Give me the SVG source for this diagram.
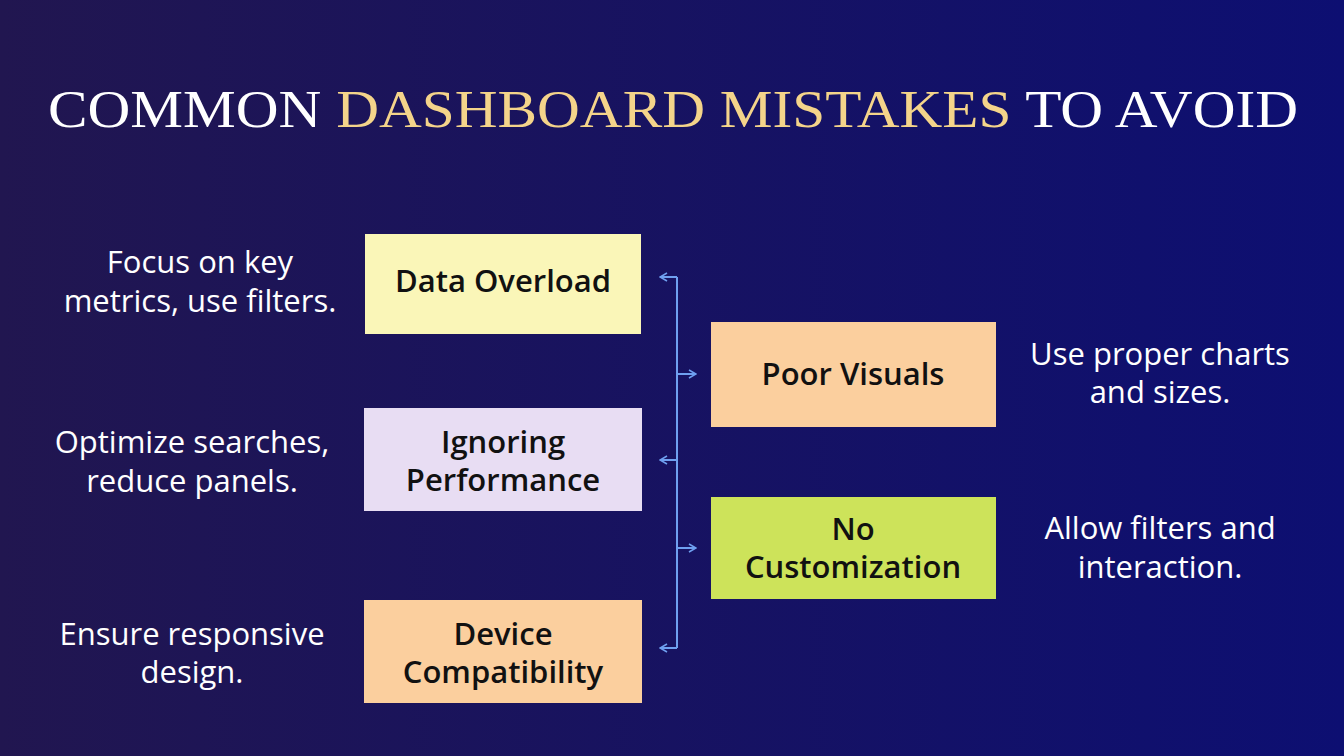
<svg xmlns="http://www.w3.org/2000/svg" width="1344" height="756" viewBox="0 0 1344 756">
<defs>
<linearGradient id="bg" x1="0" y1="0" x2="1" y2="0"><stop offset="0" stop-color="#211650"/><stop offset="1" stop-color="#0d0f72"/></linearGradient>
<marker id="ah" viewBox="0 0 10 10" refX="9" refY="5" markerWidth="10" markerHeight="10" markerUnits="userSpaceOnUse" orient="auto"><path d="M2,1 L9,5 L2,9" fill="none" stroke="#6fa0f0" stroke-width="1.6"/></marker>
<style>
.t{font-family:"Liberation Serif",serif;font-size:52px;fill:#fff}
.b{font-family:"Open Sans","Liberation Sans",sans-serif;font-weight:600;font-size:31px;fill:#111;text-anchor:middle}
.d{font-family:"Open Sans","Liberation Sans",sans-serif;font-size:31px;fill:#fff;text-anchor:middle}
.c{stroke:#6fa0f0;stroke-width:2;fill:none}
</style>
</defs>
<rect width="1344" height="756" fill="url(#bg)"/>
<text x="48" y="127" class="t" textLength="1250" lengthAdjust="spacingAndGlyphs">COMMON <tspan fill="#f4d48a">DASHBOARD MISTAKES</tspan> TO AVOID</text>
<g id="n1"><rect x="365" y="234" width="276" height="100" fill="#faf6b8"/><text class="b" x="503" y="292">Data Overload</text></g>
<g id="n2"><rect x="364" y="408" width="278" height="103" fill="#e8ddf3"/><text class="b" x="503" y="453">Ignoring</text><text class="b" x="503" y="491">Performance</text></g>
<g id="n3"><rect x="364" y="600" width="278" height="103" fill="#fbcf9e"/><text class="b" x="503" y="645">Device</text><text class="b" x="503" y="683">Compatibility</text></g>
<g id="n4"><rect x="711" y="322" width="285" height="105" fill="#fbcf9e"/><text class="b" x="853" y="385">Poor Visuals</text></g>
<g id="n5"><rect x="711" y="497" width="285" height="102" fill="#cde35a"/><text class="b" x="853" y="540">No</text><text class="b" x="853" y="578">Customization</text></g>
<g id="desc">
<text class="d" x="200" y="273">Focus on key</text><text class="d" x="200" y="312">metrics, use filters.</text>
<text class="d" x="192" y="453">Optimize searches,</text><text class="d" x="192" y="492">reduce panels.</text>
<text class="d" x="192" y="645">Ensure responsive</text><text class="d" x="192" y="683">design.</text>
<text class="d" x="1160" y="365">Use proper charts</text><text class="d" x="1160" y="403">and sizes.</text>
<text class="d" x="1160" y="539">Allow filters and</text><text class="d" x="1160" y="578">interaction.</text>
</g>
<g id="connectors">
<path class="c" d="M677,277 V648"/>
<path class="c" d="M677,277 H660" marker-end="url(#ah)"/>
<path class="c" d="M677,460 H660" marker-end="url(#ah)"/>
<path class="c" d="M677,648 H660" marker-end="url(#ah)"/>
<path class="c" d="M677,374 H696" marker-end="url(#ah)"/>
<path class="c" d="M677,548 H696" marker-end="url(#ah)"/>
</g>
</svg>
